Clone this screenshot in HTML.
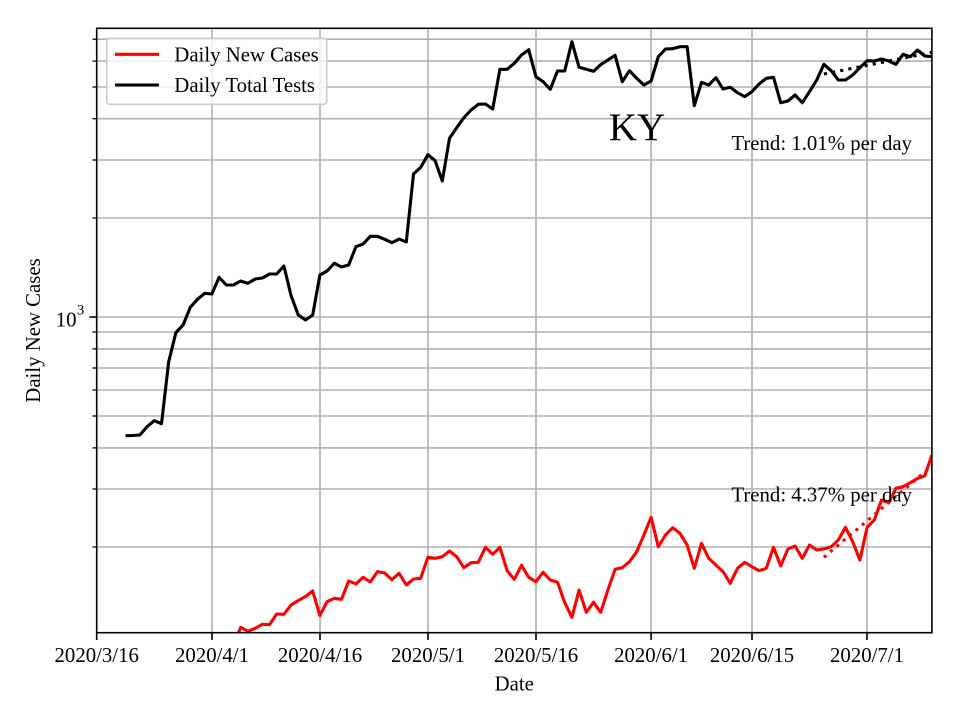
<!DOCTYPE html>
<html>
<head>
<meta charset="utf-8">
<style>
html,body{margin:0;padding:0;background:#fff;}
svg{display:block;}
text{font-family:"Liberation Serif","Times New Roman",serif;fill:#000;}
</style>
</head>
<body>
<svg width="960" height="720" viewBox="0 0 960 720" xmlns="http://www.w3.org/2000/svg">
<defs>
<clipPath id="ax"><rect x="96.7" y="28.3" width="835.2" height="604.4"/></clipPath>
</defs>
<rect x="0" y="0" width="960" height="720" fill="#fff"/>

<!-- horizontal grid -->
<g stroke="#b0b0b0" stroke-width="1.6" fill="none">
<line x1="96.7" x2="931.9" y1="547" y2="547"/>
<line x1="96.7" x2="931.9" y1="489" y2="489"/>
<line x1="96.7" x2="931.9" y1="447.9" y2="447.9"/>
<line x1="96.7" x2="931.9" y1="416" y2="416"/>
<line x1="96.7" x2="931.9" y1="390" y2="390"/>
<line x1="96.7" x2="931.9" y1="368" y2="368"/>
<line x1="96.7" x2="931.9" y1="348.9" y2="348.9"/>
<line x1="96.7" x2="931.9" y1="332" y2="332"/>
<line x1="96.7" x2="931.9" y1="317" y2="317"/>
<line x1="96.7" x2="931.9" y1="218" y2="218"/>
<line x1="96.7" x2="931.9" y1="160" y2="160"/>
<line x1="96.7" x2="931.9" y1="118.7" y2="118.7"/>
<line x1="96.7" x2="931.9" y1="87" y2="87"/>
<line x1="96.7" x2="931.9" y1="61.1" y2="61.1"/>
<line x1="96.7" x2="931.9" y1="39.2" y2="39.2"/>
<!-- vertical grid -->
<line y1="28.3" y2="632.7" x1="212" x2="212"/>
<line y1="28.3" y2="632.7" x1="320" x2="320"/>
<line y1="28.3" y2="632.7" x1="428" x2="428"/>
<line y1="28.3" y2="632.7" x1="536" x2="536"/>
<line y1="28.3" y2="632.7" x1="651.1" x2="651.1"/>
<line y1="28.3" y2="632.7" x1="752" x2="752"/>
<line y1="28.3" y2="632.7" x1="867" x2="867"/>
</g>

<g clip-path="url(#ax)" fill="none" stroke-width="3.1" stroke-linejoin="round" stroke-linecap="butt">
<!-- Black: daily total tests -->
<polyline stroke="#000" points="125.5,435.7 132.7,435.5 139.9,435 147.1,426.7 154.3,420.7 161.5,423.7 168.7,361.7 175.9,332.5 183.1,325 190.3,307.3 197.5,299.3 204.7,293.3 211.9,294 219.1,277.3 226.3,285 233.5,285 240.7,281 247.9,283.3 255.1,279 262.3,278 269.5,274 276.7,274 283.9,266 291.1,295.7 298.3,315 305.5,320 312.7,315 319.9,275 327.1,271 334.3,263.3 341.5,267 348.7,265 355.9,246.7 363.1,244 370.3,236.3 377.5,236.3 384.7,239.3 391.9,242.7 399.1,239 406.3,242 413.5,174 420.7,167.3 427.9,154.7 435.1,160.7 442.3,181 449.5,138.3 456.7,127.7 463.9,117.7 471.1,110 478.3,104.3 485.5,104 492.7,109 499.9,69.3 507.1,69.3 514.3,63.3 521.5,55 528.7,49.7 535.9,76.7 543.1,81.7 550.3,89.3 557.5,71 564.7,71 571.9,41.7 579.1,67.3 586.3,69.3 593.5,71.3 600.7,64.7 607.9,60 615.1,55.3 622.3,81.7 629.5,70.7 636.7,78.3 643.9,85 651.1,81 658.3,56.7 665.5,49 672.7,48.7 679.9,46.7 687.1,46.7 694.3,105.7 701.5,82.3 708.7,85 715.9,77.7 723.1,89 730.3,87.3 737.5,92.7 744.7,96.7 751.9,91.7 759.1,84 766.3,78.3 773.5,77.3 780.7,102.7 787.9,101 795.1,95 802.3,102.7 809.5,91.7 816.7,80 823.9,64.3 831.1,70.7 838.3,80 845.5,80 852.7,75 859.9,67.7 867.1,60.7 874.3,61 881.5,59 888.7,61 895.9,64.3 903.1,54.3 910.3,56.7 917.5,50 924.7,56 931.9,56.7"/>
<!-- Red: daily new cases -->
<polyline stroke="#ff0000" points="233.5,645 240.7,627.3 247.9,631.3 255.1,628.3 262.3,624.3 269.5,624.7 276.7,614 283.9,614.3 291.1,605 298.3,600.5 305.5,596.5 312.7,591 319.9,615.5 327.1,601.7 334.3,598.3 341.5,599.3 348.7,581 355.9,584 363.1,577.3 370.3,582 377.5,571.7 384.7,573 391.9,579.7 399.1,573.3 406.3,585 413.5,579 420.7,578.3 427.9,557.3 435.1,558.3 442.3,556.7 449.5,551 456.7,556.7 463.9,567.7 471.1,562.7 478.3,562.3 485.5,547.3 492.7,554.3 499.9,547.3 507.1,570.7 514.3,579.3 521.5,565.3 528.7,577.3 535.9,581.7 543.1,572.3 550.3,580 557.5,582.3 564.7,602.5 571.9,617.3 579.1,590 586.3,612.3 593.5,602.3 600.7,612.3 607.9,590 615.1,569.3 622.3,567.7 629.5,561.7 636.7,551.7 643.9,535 651.1,517.3 658.3,546.7 665.5,535 672.7,527.7 679.9,533.3 687.1,545 694.3,568.3 701.5,543.3 708.7,558.3 715.9,565 723.1,571.7 730.3,583.3 737.5,568.3 744.7,562.3 751.9,566.7 759.1,570.7 766.3,568.3 773.5,547.3 780.7,566 787.9,549 795.1,546 802.3,558.3 809.5,545 816.7,550 823.9,549 831.1,546.7 838.3,540 845.5,527.3 852.7,541.7 859.9,560 867.1,527.3 874.3,520 881.5,500 888.7,502.7 895.9,488.3 903.1,486.7 910.3,482.7 917.5,478.3 924.7,476 931.9,455"/>
<!-- trend lines -->
<line x1="823.9" y1="74" x2="931.9" y2="52.4" stroke="#000" stroke-dasharray="3.1 5.2"/>
<line x1="823.9" y1="557.3" x2="931.9" y2="466" stroke="#ff0000" stroke-dasharray="3.1 5.2"/>
</g>

<!-- spines -->
<rect x="96.7" y="28.3" width="835.2" height="604.4" fill="none" stroke="#000" stroke-width="1.6"/>

<!-- x ticks -->
<g stroke="#000" stroke-width="1.6">
<line x1="96.7" x2="96.7" y1="632.7" y2="640"/>
<line x1="212" x2="212" y1="632.7" y2="640"/>
<line x1="320" x2="320" y1="632.7" y2="640"/>
<line x1="428" x2="428" y1="632.7" y2="640"/>
<line x1="536" x2="536" y1="632.7" y2="640"/>
<line x1="651.1" x2="651.1" y1="632.7" y2="640"/>
<line x1="752" x2="752" y1="632.7" y2="640"/>
<line x1="867" x2="867" y1="632.7" y2="640"/>
</g>
<!-- y ticks -->
<g stroke="#000" stroke-width="1.3">
<line x1="96.7" x2="89.4" y1="317" y2="317" stroke-width="1.6"/>
<line x1="96.7" x2="92.5" y1="547" y2="547"/>
<line x1="96.7" x2="92.5" y1="489" y2="489"/>
<line x1="96.7" x2="92.5" y1="447.9" y2="447.9"/>
<line x1="96.7" x2="92.5" y1="416" y2="416"/>
<line x1="96.7" x2="92.5" y1="390" y2="390"/>
<line x1="96.7" x2="92.5" y1="368" y2="368"/>
<line x1="96.7" x2="92.5" y1="348.9" y2="348.9"/>
<line x1="96.7" x2="92.5" y1="332" y2="332"/>
<line x1="96.7" x2="92.5" y1="218" y2="218"/>
<line x1="96.7" x2="92.5" y1="160" y2="160"/>
<line x1="96.7" x2="92.5" y1="118.7" y2="118.7"/>
<line x1="96.7" x2="92.5" y1="87" y2="87"/>
<line x1="96.7" x2="92.5" y1="61.1" y2="61.1"/>
<line x1="96.7" x2="92.5" y1="39.2" y2="39.2"/>
</g>

<!-- x tick labels -->
<g font-size="20.8" text-anchor="middle">
<text x="96.7" y="662">2020/3/16</text>
<text x="212" y="662">2020/4/1</text>
<text x="320" y="662">2020/4/16</text>
<text x="428" y="662">2020/5/1</text>
<text x="536" y="662">2020/5/16</text>
<text x="651.1" y="662">2020/6/1</text>
<text x="752" y="662">2020/6/15</text>
<text x="867" y="662">2020/7/1</text>
</g>
<!-- y tick label 10^3 -->
<text x="76.5" y="326.3" font-size="20.8" text-anchor="end">10</text>
<text x="77" y="314.5" font-size="14.5">3</text>

<!-- axis labels -->
<text x="514.3" y="690.5" font-size="20.8" text-anchor="middle">Date</text>
<text transform="translate(40,330.5) rotate(-90)" font-size="20.8" text-anchor="middle">Daily New Cases</text>

<!-- annotations -->
<text x="637" y="140" font-size="39" text-anchor="middle">KY</text>
<text x="912" y="150" font-size="20.8" text-anchor="end">Trend: 1.01% per day</text>
<text x="912" y="501.5" font-size="20.8" text-anchor="end">Trend: 4.37% per day</text>

<!-- legend -->
<rect x="106.7" y="38.3" width="220" height="66" rx="3" ry="3" fill="#fff" fill-opacity="0.8" stroke="#cccccc" stroke-width="1.6"/>
<line x1="115" x2="159" y1="54.3" y2="54.3" stroke="#ff0000" stroke-width="3.1"/>
<line x1="115" x2="159" y1="85" y2="85" stroke="#000" stroke-width="3.1"/>
<text x="174.3" y="61.7" font-size="20.8">Daily New Cases</text>
<text x="174.3" y="92" font-size="20.8">Daily Total Tests</text>
</svg>
</body>
</html>
